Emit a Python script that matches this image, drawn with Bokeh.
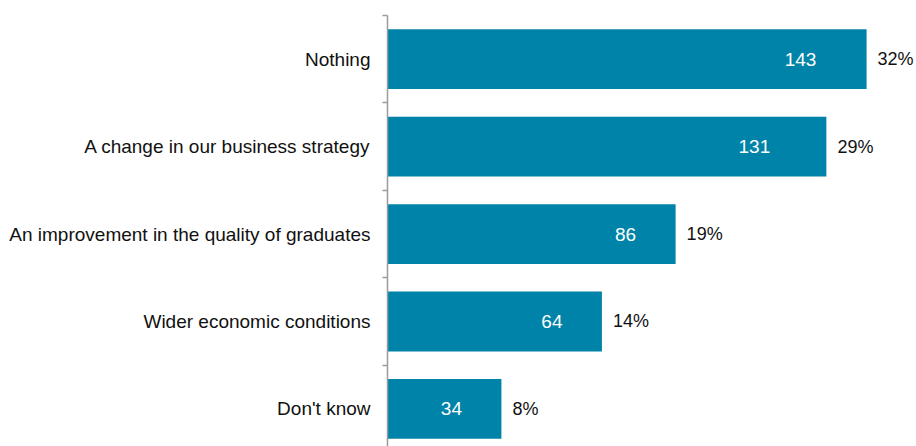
from bokeh.plotting import figure
from bokeh.models import Range1d, FixedTicker, ColumnDataSource
from bokeh.core.properties import value
from bokeh.embed import file_html
from bokeh.resources import INLINE

categories = ["Nothing", "A change in our business strategy",
              "An improvement in the quality of graduates",
              "Wider economic conditions", "Don't know"]
counts = [143, 131, 86, 64, 34]
percents = ["32%", "29%", "19%", "14%", "8%"]

# style: pixel offsets of the white count labels from the bar end
count_label_offsets = [-66, -72, -50, -50, -50]

pos = list(range(len(categories)))
src = ColumnDataSource(dict(y=pos, v=counts, c=[str(c) for c in counts],
                            pct=percents, off=count_label_offsets))

FONT = "Liberation Sans"
p = figure(width=916, height=446, output_backend="svg", toolbar_location=None,
           x_range=Range1d(0, 157.9), y_range=Range1d(4.43, -0.5),
           min_border_left=387, min_border_right=0, min_border_top=15,
           min_border_bottom=0)
p.outline_line_color = None
p.grid.visible = False
p.xaxis.visible = False

p.hbar(y="y", right="v", left=0, height=0.684, source=src,
       fill_color="#0083a8", line_color=None)

p.text(x="v", y="y", text="c", source=src, x_offset="off",
       text_align="center", text_baseline="middle", text_color="white",
       text_font=value(FONT), text_font_size="19px")
p.text(x="v", y="y", text="pct", source=src, x_offset=11,
       text_align="left", text_baseline="middle", text_color="#111111",
       text_font=value(FONT), text_font_size="18px")

ax = p.yaxis[0]
ax.ticker = FixedTicker(ticks=pos, minor_ticks=[i - 0.5 for i in range(len(categories) + 1)])
ax.major_label_overrides = {i: c for i, c in enumerate(categories)}
ax.major_tick_out = 0
ax.major_tick_in = 0
ax.minor_tick_out = 5
ax.minor_tick_in = 0
ax.minor_tick_line_color = "#9a9a9a"
ax.minor_tick_line_width = 1.5
ax.axis_line_color = "#9a9a9a"
ax.axis_line_width = 1.5
ax.major_label_standoff = 12
ax.major_label_text_font = FONT
ax.major_label_text_font_size = "19px"
ax.major_label_text_color = "#111111"

open("out.html", "w").write(file_html(p, INLINE))
